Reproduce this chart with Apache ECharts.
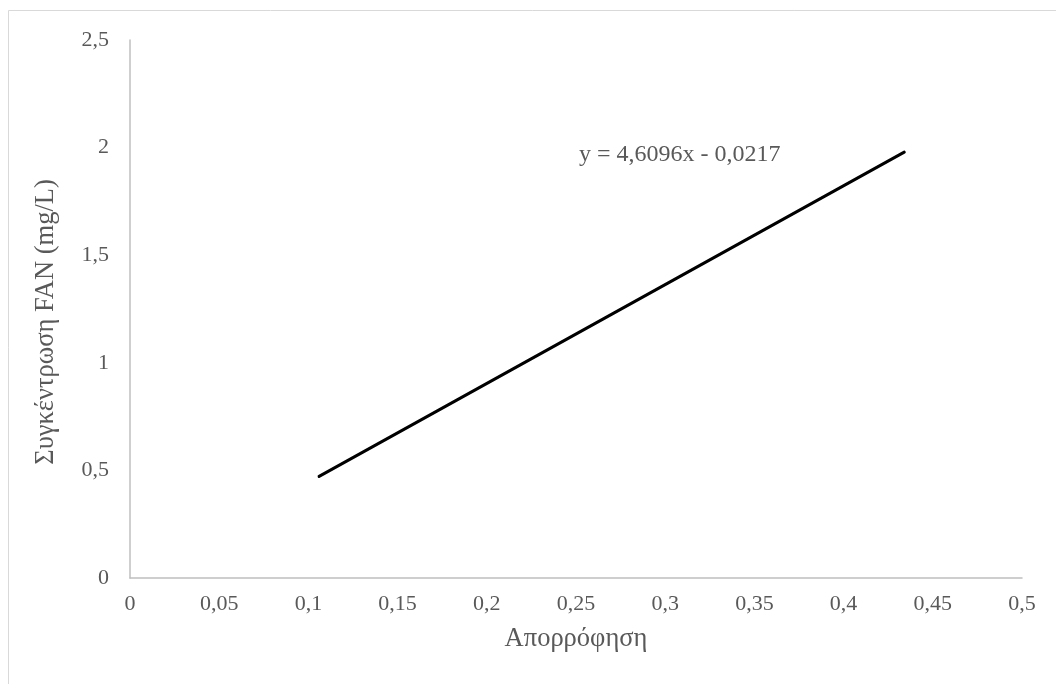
<!DOCTYPE html>
<html>
<head>
<meta charset="utf-8">
<script src="https://cdn.jsdelivr.net/npm/echarts@6/dist/echarts.min.js"></script>
<style>html,body{margin:0;padding:0;background:#fff;}#c{width:1056px;height:684px;}</style>
</head>
<body>
<div id="c"></div>
<script>
const absorbance = [0.106, 0.434];
const fanConc = [0.472, 1.979];
const equationText = 'y = 4,6096x - 0,0217';
const xTitle = 'Απορρόφηση';
const yTitle = 'Συγκέντρωση FAN (mg/L)';

const fmt = v => String(Math.round(v * 100) / 100).replace('.', ',');
const font = '"Liberation Serif", "Times New Roman", serif';
const chart = echarts.init(document.getElementById('c'));
chart.setOption({
  animation: false,
  backgroundColor: '#fff',
  grid: { left: 130, right: 34, top: 40, bottom: 106 },
  graphic: [
    { type: 'rect', shape: { x: 8.5, y: 10.5, width: 1200, height: 800 }, style: { fill: 'none', stroke: '#d9d9d9', lineWidth: 1 }, silent: true },
    { type: 'text', left: 579, top: 143, style: { text: equationText, font: '24px ' + font, fill: '#595959' } }
  ],
  xAxis: {
    type: 'value', min: 0, max: 0.5, interval: 0.05,
    name: xTitle, nameLocation: 'middle', nameGap: 48,
    nameTextStyle: { fontFamily: font, fontSize: 26.5, color: '#595959' },
    axisLine: { show: true, lineStyle: { color: '#bfbfbf', width: 1.5 } },
    axisTick: { show: false }, splitLine: { show: false },
    axisLabel: { formatter: fmt, margin: 15, fontFamily: font, fontSize: 22, color: '#595959' }
  },
  yAxis: {
    type: 'value', min: 0, max: 2.5, interval: 0.5,
    name: yTitle, nameLocation: 'middle', nameGap: 70,
    nameTextStyle: { fontFamily: font, fontSize: 26.5, color: '#595959', padding: [0, 26, 0, 0] },
    axisLine: { show: true, lineStyle: { color: '#bfbfbf', width: 1.5 } },
    axisTick: { show: false }, splitLine: { show: false },
    axisLabel: { formatter: fmt, margin: 21, fontFamily: font, fontSize: 22, color: '#595959' }
  },
  series: [{
    type: 'line',
    data: absorbance.map((x, i) => [x, fanConc[i]]),
    symbol: 'none',
    lineStyle: { color: '#000', width: 3, cap: 'round' }
  }]
});
</script>
</body>
</html>
